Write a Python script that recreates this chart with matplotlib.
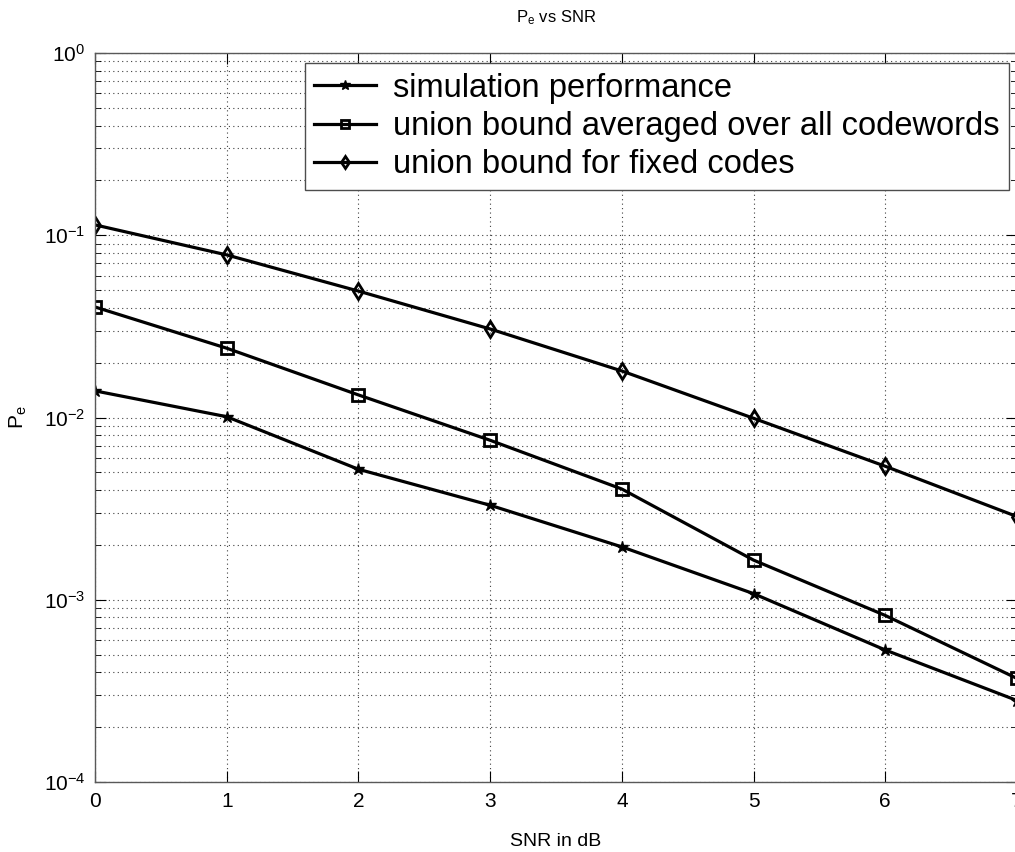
import numpy as np
import matplotlib
matplotlib.use("Agg")
import matplotlib.pyplot as plt

plt.rcParams['font.family'] = ['Liberation Sans', 'DejaVu Sans']
plt.rcParams['mathtext.fontset'] = 'custom'
plt.rcParams['mathtext.rm'] = 'Liberation Sans'
plt.rcParams['mathtext.it'] = 'Liberation Sans'
plt.rcParams['axes.unicode_minus'] = False

snr_db = [0, 1, 2, 3, 4, 5, 6, 7]
pe_sim = [0.0140, 0.0101, 0.0052, 0.0033, 0.00195, 0.00108, 0.00053, 0.00028]
pe_union_avg = [0.0404, 0.0240, 0.0133, 0.0075, 0.00405, 0.00165, 0.00082, 0.00037]
pe_union_fixed = [0.114, 0.078, 0.0494, 0.0306, 0.0180, 0.0099, 0.0054, 0.00286]

labels = ["simulation performance",
          "union bound averaged over all codewords",
          "union bound for fixed codes"]

fig = plt.figure(figsize=(10.15, 8.52), dpi=100)
ax = fig.add_axes([95/1015, 1-782/852, 922/1015, 729/852])

ax.semilogy(snr_db, pe_sim, 'k-*', lw=2.3, ms=9, label=labels[0])
ax.semilogy(snr_db, pe_union_avg, 'k-s', lw=2.3, ms=8, mfc='none', mew=2, label=labels[1])
ax.semilogy(snr_db, pe_union_fixed, 'k-d', lw=2.3, ms=8, mfc='none', mew=2, label=labels[2])

ax.set_xlim(0, 7)
ax.set_ylim(1e-4, 1)
ax.set_xticks(range(0, 8))
ax.grid(which='major', axis='both', ls=(0, (1, 3)), color='0.25', lw=0.8)
ax.grid(which='minor', axis='y', ls=(0, (1, 3)), color='0.25', lw=0.8)
ax.tick_params(which='both', direction='in', top=True, right=True, labelsize=15)
ax.tick_params(which='major', length=8, pad=7)
ax.tick_params(which='minor', length=4)
for s in ax.spines.values():
    s.set_linewidth(1)
    s.set_color('0.35')

ax.set_title(r"P$_\mathregular{e}$ vs SNR", fontsize=12, pad=22)
ax.set_xlabel("SNR in dB", fontsize=14, labelpad=16)
ax.set_ylabel(r"P$_\mathregular{e}$", fontsize=15)
ax.yaxis.set_label_coords(-0.072, 0.5)

leg = ax.legend(loc='upper right', bbox_to_anchor=(1009/1015, 1-63/852),
                bbox_transform=fig.transFigure, borderaxespad=0, fontsize=23.5,
                fancybox=False, framealpha=1, edgecolor='0.3',
                handlelength=1.9, handletextpad=0.5, labelspacing=0.22,
                borderpad=0.3, markerscale=0.8)
leg.get_frame().set_linewidth(1)

fig.savefig("out.png", dpi=100)
